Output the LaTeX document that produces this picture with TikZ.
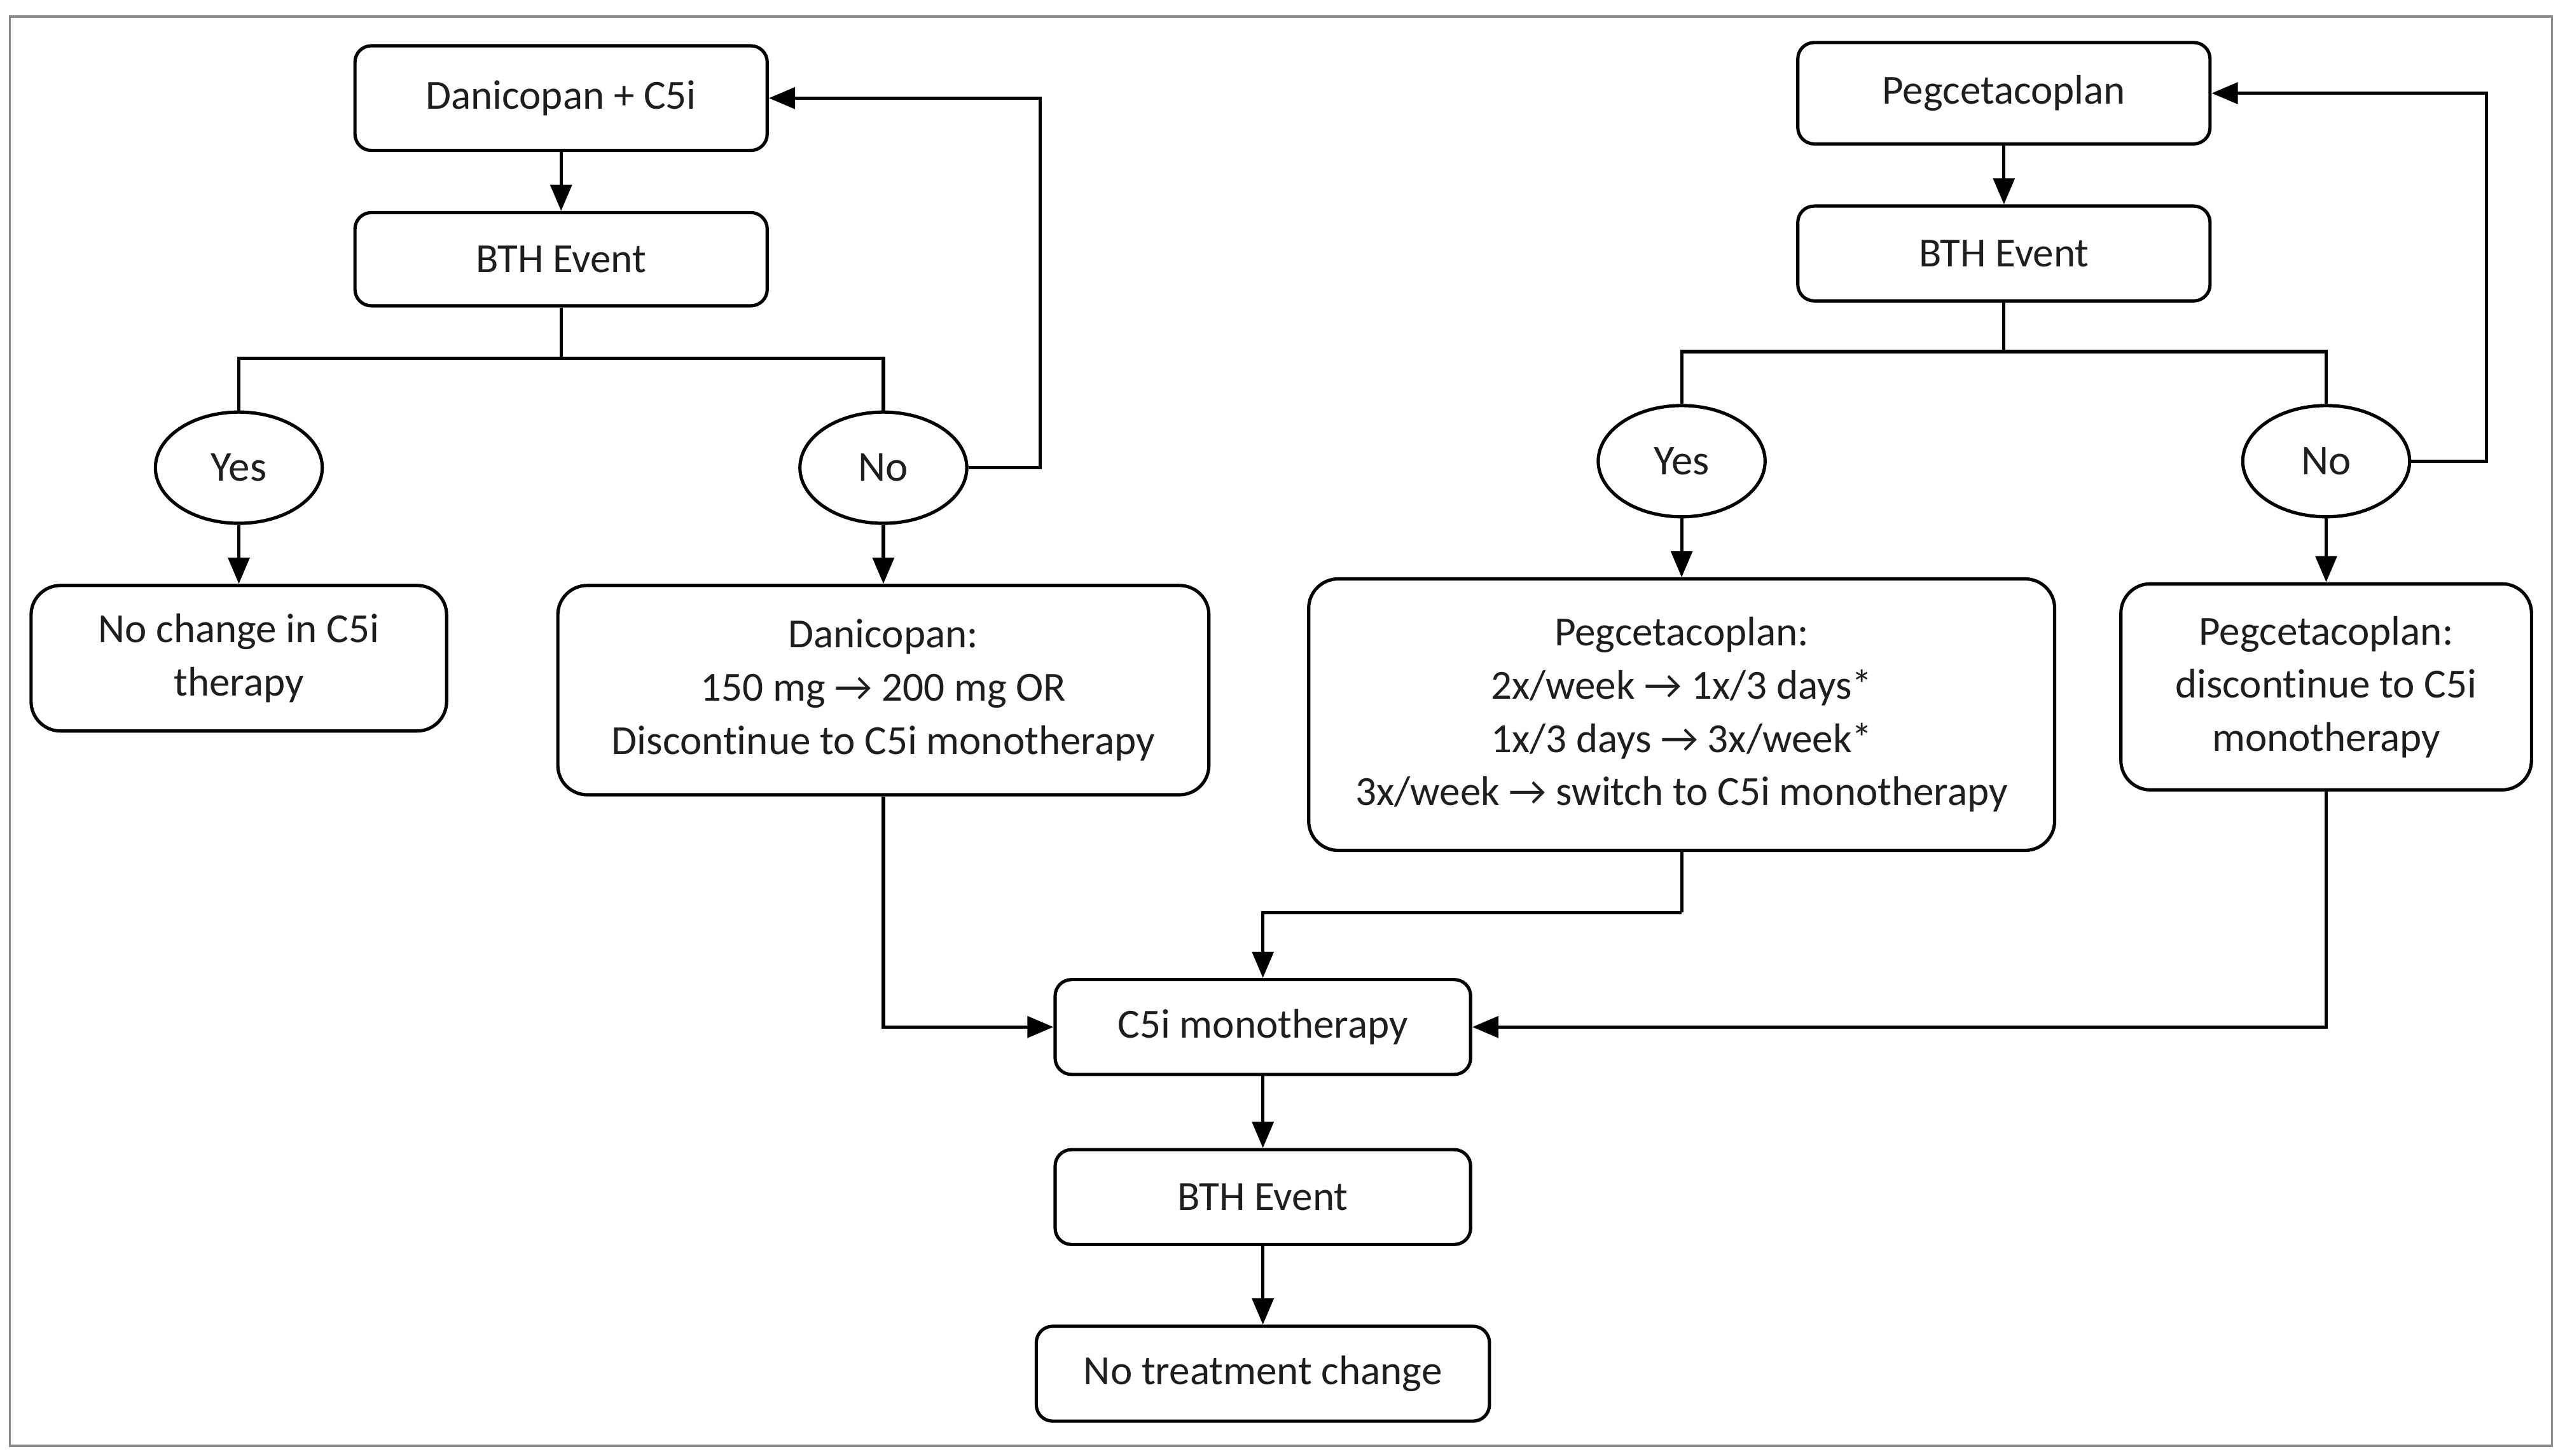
\documentclass[tikz,border=0pt]{standalone}
\usepackage{fontspec}
\setmainfont{Carlito}[Ligatures=NoCommon]
\usetikzlibrary{arrows.meta,shapes.geometric}
\definecolor{framegray}{HTML}{8A8A8A}
\definecolor{txt}{HTML}{1E1E1E}
\begin{document}
\begin{tikzpicture}[x=1pt,y=-1pt,
  box/.style={draw=black, line width=2pt, rounded corners=10pt, align=center,
    inner sep=0pt, text=txt, font=\fontsize{25.3}{32.5}\selectfont},
  bigbox/.style={box, rounded corners=18pt},
  dec/.style={draw=black, ellipse, line width=2pt, inner sep=0pt,
    minimum width=102pt, minimum height=68pt, text=txt, font=\fontsize{26}{30}\selectfont},
  conn/.style={draw=black, line width=2pt},
  arr/.style={conn, -{Triangle[length=16pt,width=13pt]}}]

\useasboundingbox (0,0) rectangle (1568,890);
\draw[framegray, line width=1.4pt] (6,10) rectangle (1560,884);

% left column
\node[box, minimum width=252pt, minimum height=64pt] (dan) at (343,60) {Danicopan + C5i};
\node[box, minimum width=252pt, minimum height=57pt] (bthL) at (343,158.5) {BTH Event};
\node[dec] (yesL) at (146,286) {Yes};
\node[dec] (noL) at (540,286) {No};
\node[bigbox, minimum width=254pt, minimum height=89pt] (nochg) at (146,402.5) {No change in C5i\\therapy};
\node[bigbox, minimum width=398pt, minimum height=128pt] (danbox) at (540,422) {Danicopan:\\150 mg → 200 mg OR\\Discontinue to C5i monotherapy};

% right column
\node[box, minimum width=252pt, minimum height=62pt] (peg) at (1225,57) {Pegcetacoplan};
\node[box, minimum width=252pt, minimum height=58pt] (bthR) at (1225,155) {BTH Event};
\node[dec] (yesR) at (1028,282) {Yes};
\node[dec] (noR) at (1422,282) {No};
\node[bigbox, minimum width=456pt, minimum height=166pt] (pegbox) at (1028,437) {Pegcetacoplan:\\2x/week → 1x/3 days*\\1x/3 days → 3x/week*\\3x/week → switch to C5i monotherapy};
\node[bigbox, minimum width=251pt, minimum height=126pt] (pegdisc) at (1422,420) {Pegcetacoplan:\\discontinue to C5i\\monotherapy};

% centre column
\node[box, minimum width=254pt, minimum height=58pt] (c5i) at (772,628) {C5i monotherapy};
\node[box, minimum width=254pt, minimum height=58pt] (bthC) at (772,732) {BTH Event};
\node[box, minimum width=277pt, minimum height=58pt] (notr) at (772,840) {No treatment change};

% helper coordinates
\coordinate (brL) at (343,219);
\coordinate (lpL) at (636,60);
\coordinate (brR) at (1225,215);
\coordinate (lpR) at (1520,57);
\coordinate (jog) at (1028,558);

% left connectors
\draw[arr] (dan) -- (bthL);
\draw[conn] (bthL) -- (brL);
\draw[conn] (brL) -| (yesL);
\draw[conn] (brL) -| (noL);
\draw[arr] (yesL) -- (nochg);
\draw[arr] (noL) -- (danbox);
\draw[arr] (noL.east) -| (lpL) -- (dan.east);
\draw[arr] (danbox.south) |- (c5i.west);

% right connectors
\draw[arr] (peg) -- (bthR);
\draw[conn] (bthR) -- (brR);
\draw[conn] (brR) -| (yesR);
\draw[conn] (brR) -| (noR);
\draw[arr] (yesR) -- (pegbox);
\draw[arr] (noR) -- (pegdisc);
\draw[arr] (noR.east) -| (lpR) -- (peg.east);
\draw[conn] (pegbox.south) -- (jog);
\draw[arr] (jog) -| (c5i.north);
\draw[arr] (pegdisc.south) |- (c5i.east);

% centre connectors
\draw[arr] (c5i) -- (bthC);
\draw[arr] (bthC) -- (notr);
\end{tikzpicture}
\end{document}
